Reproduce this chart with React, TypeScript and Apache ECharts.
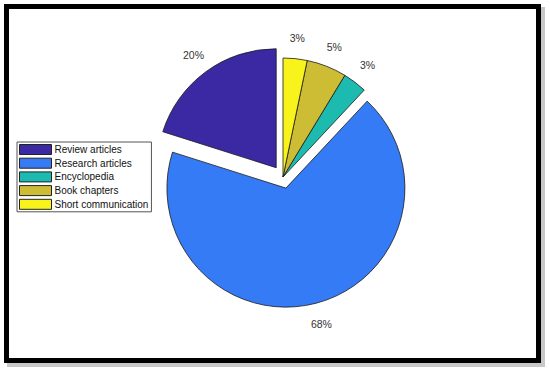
import React, { useEffect, useRef } from "react";
import * as echarts from "echarts";

const categories = ["Review articles", "Research articles", "Encyclopedia", "Book chapters", "Short communication"];
const counts = [37, 125, 6, 10, 6];
const colors = ["#3A29A3", "#367BF6", "#1DBBAF", "#CDBD34", "#F9F31C"];
const exploded = [true, true, false, false, false];

const FONT = '"Liberation Sans", Arial, sans-serif';

export default function App() {
  const ref = useRef<HTMLDivElement>(null);
  useEffect(() => {
    if (!ref.current) return;
    const chart = echarts.init(ref.current, null, { renderer: "svg" });
    const center = [283, 177];
    const r = 119;
    const offset = 11.5;
    const mainData = categories.map((name, i) => ({
      name,
      value: counts[i],
      selected: exploded[i],
      itemStyle: { color: colors[i] },
    }));
    const labelData = categories.map((name, i) => ({
      name,
      value: counts[i],
      selected: exploded[i],
    }));
    chart.setOption({
      animation: false,
      backgroundColor: "#fff",
      graphic: [
        {
          type: "rect",
          z: 0,
          shape: { x: 7, y: 7, width: 538, height: 360 },
          style: { fill: "#c8c8c8" },
        },
        {
          type: "rect",
          z: 0,
          shape: { x: 6.5, y: 6.5, width: 532, height: 354 },
          style: { fill: "#fff", stroke: "#000", lineWidth: 5 },
        },
      ],
      legend: {
        orient: "vertical",
        left: 17,
        top: 142,
        data: categories,
        icon: "rect",
        itemWidth: 32,
        itemHeight: 10,
        itemGap: 2.7,
        padding: [2, 3, 2, 2],
        borderColor: "#555",
        borderWidth: 1,
        backgroundColor: "#fff",
        selectedMode: false,
        itemStyle: { borderColor: "#222", borderWidth: 1 },
        textStyle: { fontFamily: FONT, fontSize: 10, color: "#111", padding: [0, 0, 0, -2] },
      },
      series: [
        {
          type: "pie",
          center,
          radius: r,
          startAngle: 90,
          clockwise: false,
          selectedMode: "multiple",
          selectedOffset: offset,
          avoidLabelOverlap: false,
          silent: true,
          label: { show: false },
          labelLine: { show: false },
          itemStyle: { borderColor: "#1a1a1a", borderWidth: 0.8 },
          emphasis: { scale: false },
          data: mainData,
        },
        {
          type: "pie",
          center,
          radius: [125, 149],
          startAngle: 90,
          clockwise: false,
          selectedMode: "multiple",
          selectedOffset: offset,
          avoidLabelOverlap: false,
          silent: true,
          itemStyle: { color: "rgba(0,0,0,0)", borderWidth: 0 },
          label: {
            show: true,
            position: "inside",
            fontFamily: FONT,
            fontSize: 10.5,
            color: "#333",
            formatter: (p: any) => Math.round(p.percent) + "%",
          },
          labelLine: { show: false },
          emphasis: { scale: false },
          data: labelData,
        },
      ],
    });
    return () => chart.dispose();
  }, []);
  return (
    <div
      ref={ref}
      style={{ position: "absolute", left: 0, top: 0, width: 550, height: 373 }}
    />
  );
}
